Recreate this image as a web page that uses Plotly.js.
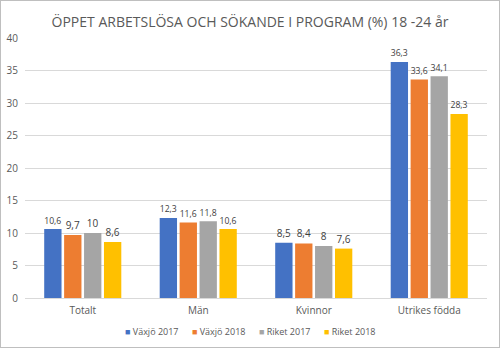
<!DOCTYPE html>
<html><head><meta charset="utf-8">
<script src="https://cdn.plot.ly/plotly-3.0.1.min.js"></script>
<style>
html,body{margin:0;padding:0;background:#fff;}
#wrap{width:498px;height:346px;border:1px solid #bfbfbf;}
#chart{width:498px;height:346px;}
</style></head>
<body><div id="wrap"><div id="chart"></div></div>
<script>
const categories = ["Totalt", "Män", "Kvinnor", "Utrikes födda"];
const seriesNames = ["Växjö 2017", "Växjö 2018", "Riket 2017", "Riket 2018"];
const vaxjo2017 = [10.6, 12.3, 8.5, 36.3];
const vaxjo2018 = [9.7, 11.6, 8.4, 33.6];
const riket2017 = [10, 11.8, 8, 34.1];
const riket2018 = [8.6, 10.6, 7.6, 28.3];
const yTicks = [0, 5, 10, 15, 20, 25, 30, 35, 40];
const colors = ["#4472C4", "#ED7D31", "#A5A5A5", "#FFC000"];
const values = [vaxjo2017, vaxjo2018, riket2017, riket2018];

const traces = values.map((v, i) => ({
  type: "bar",
  name: seriesNames[i],
  x: categories,
  y: v,
  marker: {color: colors[i]},
  text: v.map(n => String(n).replace(".", ",")),
  textposition: "outside",
  textfont: {size: 10, color: "#404040"},
  cliponaxis: false,
  showlegend: false,
  hoverinfo: "none"
}));

// compact legend, built from series names and colours
const legendText = seriesNames.map((n, i) =>
  `<span style="color:${colors[i]};font-size:9px">■</span> ${n}`).join("\u2003\u2002");

const layout = {
  width: 498, height: 346,
  margin: {l: 24, r: 12, t: 37, b: 49, autoexpand: false},
  paper_bgcolor: "#fff", plot_bgcolor: "#fff",
  font: {family: "Open Sans, sans-serif", color: "#595959", size: 10},
  title: {text: "ÖPPET ARBETSLÖSA OCH SÖKANDE I PROGRAM (%) 18 -24 år",
          font: {size: 14, color: "#595959"}, x: 0.5, xanchor: "center",
          yref: "container", y: 0.94, yanchor: "middle"},
  barmode: "group",
  bargap: 0.31,
  bargroupgap: 0.13,
  xaxis: {showgrid: false, showline: true, linecolor: "#d9d9d9", ticks: "",
          tickfont: {size: 10, color: "#595959"}, automargin: false, ticklabelstandoff: 3},
  yaxis: {range: [0, 40], tickvals: yTicks, showgrid: true, gridcolor: "#d9d9d9", zeroline: false,
          showline: false, tickfont: {size: 10, color: "#595959"}, ticklabelstandoff: 6, automargin: false},
  annotations: [{
    text: legendText, showarrow: false,
    xref: "paper", x: 0.487, xanchor: "center",
    yref: "paper", y: -0.127, yanchor: "middle",
    font: {size: 9, color: "#595959"}
  }],
  showlegend: false
};
Plotly.newPlot("chart", traces, layout, {displayModeBar: false, staticPlot: true});
</script></body></html>
